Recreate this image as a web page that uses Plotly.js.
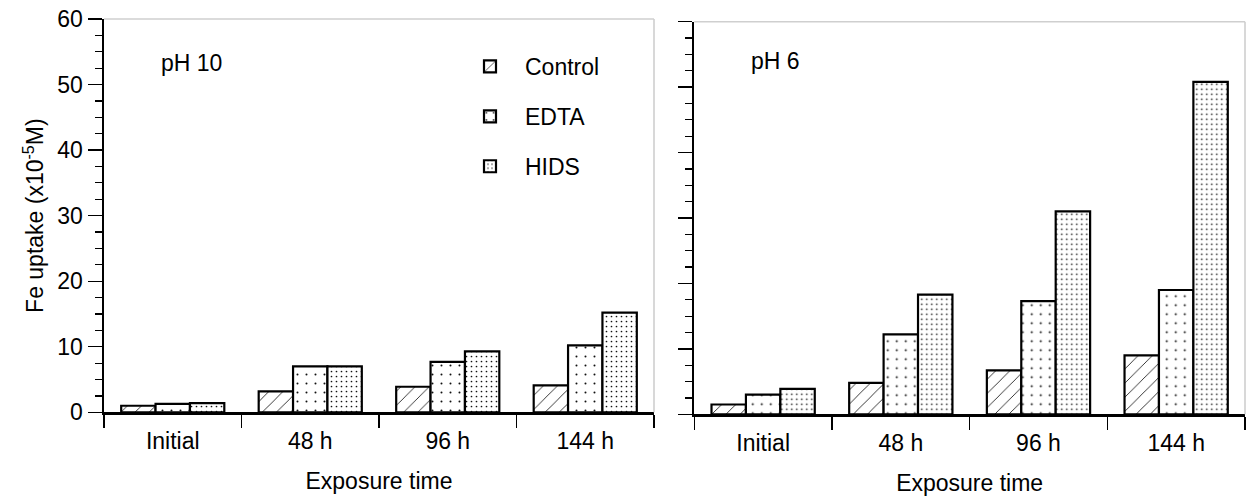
<!DOCTYPE html>
<html>
<head>
<meta charset="utf-8">
<script src="https://cdn.plot.ly/plotly-3.0.1.min.js"></script>
<style>html,body{margin:0;padding:0;background:#fff;}#chart{width:1247px;height:502px;}</style>
</head>
<body>
<div id="chart"></div>
<script>
// ---- data ----
const categories = ["Initial", "48 h", "96 h", "144 h"];
const seriesNames = ["Control", "EDTA", "HIDS"];
// pH 10 panel
const ph10Control = [1.0, 3.2, 3.9, 4.1];
const ph10EDTA    = [1.3, 7.0, 7.7, 10.2];
const ph10HIDS    = [1.4, 7.0, 9.3, 15.2];
// pH 6 panel
const ph6Control  = [1.5, 4.8, 6.7, 9.0];
const ph6EDTA     = [3.0, 12.2, 17.3, 19.0];
const ph6HIDS     = [3.9, 18.3, 31.0, 50.8];
const panelLabels = ["pH 10", "pH 6"];
const yTitle = "Fe uptake (x10<sup>-5</sup>M)";
const xTitle = "Exposure time";

// ---- styles ----
const FONT = "Liberation Sans, Arial, Helvetica, sans-serif";
const FS = 23;
const patterns = [
  {shape: "/", size: 10, solidity: 0.09, fgcolor: "#222", bgcolor: "white", fgopacity: 1},
  {shape: ".", size: 9, solidity: 0.04, fgcolor: "#111", bgcolor: "white", fgopacity: 1},
  {shape: ".", size: 5, solidity: 0.09, fgcolor: "#111", bgcolor: "white", fgopacity: 1}
];
const W = 1247, H = 502;
const px = v => v / W;
const py = v => (H - v) / H;

function bar(name, vals, idx, xa, ya, show) {
  return {
    type: "bar", name: name, x: categories, y: vals, xaxis: xa, yaxis: ya,
    legendgroup: name, showlegend: show,
    marker: {color: "white", line: {color: "black", width: 2.2}, pattern: patterns[idx]},
    hoverinfo: "skip"
  };
}

const data = [
  bar(seriesNames[0], ph10Control, 0, "x", "y", true),
  bar(seriesNames[1], ph10EDTA, 1, "x", "y", true),
  bar(seriesNames[2], ph10HIDS, 2, "x", "y", true),
  bar(seriesNames[0], ph6Control, 0, "x2", "y2", false),
  bar(seriesNames[1], ph6EDTA, 1, "x2", "y2", false),
  bar(seriesNames[2], ph6HIDS, 2, "x2", "y2", false)
];

function xAxis(domain, anchor) {
  return {
    domain: domain, anchor: anchor, type: "category", range: [-0.5, 3.5],
    showline: true, linecolor: "black", linewidth: 2.5,
    ticks: "outside", tickson: "boundaries", ticklen: 13, tickwidth: 1.3, tickcolor: "black",
    ticklabelstandoff: 7,
    showgrid: false, zeroline: false,
    tickfont: {family: FONT, size: FS, color: "black"},
    title: {text: xTitle, font: {family: FONT, size: FS, color: "black"}, standoff: 20}
  };
}
function yAxis(domain, anchor, labels) {
  const ax = {
    domain: domain, anchor: anchor, range: [0, 60], dtick: 10, tick0: 0,
    showline: true, linecolor: "black", linewidth: 2.5,
    ticks: "outside", ticklen: 14, tickwidth: 1.3, tickcolor: "black",
    minor: {dtick: 2.5, ticks: "outside", ticklen: 7, tickwidth: 1.2, tickcolor: "black", showgrid: false},
    showgrid: false, zeroline: false, showticklabels: labels,
    tickfont: {family: FONT, size: FS, color: "black"}
  };
  if (labels) ax.title = {text: yTitle, font: {family: FONT, size: FS, color: "black"}, standoff: 7};
  return ax;
}

function frame(xr, yr) {
  return [
    {type: "line", xref: xr + " domain", yref: yr + " domain", x0: 0, x1: 1, y0: 1, y1: 1,
     line: {color: "#cfcfcf", width: 1.6}},
    {type: "line", xref: xr + " domain", yref: yr + " domain", x0: 1, x1: 1, y0: 0, y1: 1,
     line: {color: "#cfcfcf", width: 1.6}}
  ];
}

const layout = {
  width: W, height: H,
  margin: {l: 0, r: 0, t: 0, b: 0},
  paper_bgcolor: "white", plot_bgcolor: "white",
  font: {family: FONT, size: FS, color: "black"},
  barmode: "group", bargap: 0.25, bargroupgap: 0,
  xaxis: xAxis([px(104), px(654)], "y"),
  yaxis: yAxis([py(412.3), py(19)], "x", true),
  xaxis2: xAxis([px(694.3), px(1245)], "y2"),
  yaxis2: yAxis([py(414.3), py(21.7)], "x2", false),
  showlegend: true,
  legend: {
    x: px(455), y: py(45), xanchor: "left", yanchor: "top",
    bgcolor: "rgba(0,0,0,0)", borderwidth: 0,
    font: {family: FONT, size: FS, color: "black"},
    tracegroupgap: 17, itemwidth: 60
  },
  shapes: frame("x", "y").concat(frame("x2", "y2")),
  annotations: [
    {text: panelLabels[0], xref: "paper", yref: "paper", x: px(159), y: py(63),
     xanchor: "left", yanchor: "middle", showarrow: false, font: {family: FONT, size: FS, color: "black"}},
    {text: panelLabels[1], xref: "paper", yref: "paper", x: px(749), y: py(61),
     xanchor: "left", yanchor: "middle", showarrow: false, font: {family: FONT, size: FS, color: "black"}}
  ]
};

Plotly.newPlot("chart", data, layout, {displayModeBar: false, staticPlot: true});
</script>
</body>
</html>
